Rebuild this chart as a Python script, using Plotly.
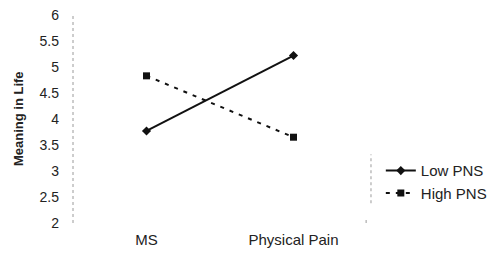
import plotly.graph_objects as go

categories = ["MS", "Physical Pain"]
low_pns = [3.77, 5.22]
high_pns = [4.83, 3.65]
y_ticks = [2, 2.5, 3, 3.5, 4, 4.5, 5, 5.5, 6]
y_tick_labels = ["2", "2.5", "3", "3.5", "4", "4.5", "5", "5.5", "6"]

fig = go.Figure()
fig.add_trace(go.Scatter(
    x=categories, y=low_pns, name="Low PNS", mode="lines+markers",
    line=dict(color="#111", width=2),
    marker=dict(symbol="diamond", size=7, color="#111"),
))
fig.add_trace(go.Scatter(
    x=categories, y=high_pns, name="High PNS", mode="lines+markers",
    line=dict(color="#111", width=2, dash="4px,6px"),
    marker=dict(symbol="square", size=7, color="#111"),
))

fig.update_layout(
    width=493, height=256,
    margin=dict(l=73, r=126, t=15, b=33, autoexpand=False),
    paper_bgcolor="white", plot_bgcolor="white",
    font=dict(family="Liberation Sans, Arial, sans-serif", size=14, color="#222"),
    showlegend=True,
    legend=dict(x=1.047, y=0.33, xanchor="left", yanchor="top",
                font=dict(size=15), tracegroupgap=0, itemwidth=30,
                bgcolor="rgba(0,0,0,0)"),
    xaxis=dict(showgrid=False, zeroline=False, showline=False, ticks="",
               range=[-0.5, 1.5], automargin=False,
               tickfont=dict(size=15), ticklabelstandoff=6),
    yaxis=dict(range=[2, 6], tickvals=y_ticks, ticktext=y_tick_labels,
               showgrid=False, zeroline=False, showline=False, ticks="",
               automargin=False, ticklabeloverflow="allow",
               ticklabelstandoff=13, tickfont=dict(size=14)),
    annotations=[dict(text="<b>Meaning in Life</b>", xref="paper", yref="paper",
                      x=-0.187, y=0.5, xanchor="center", yanchor="middle",
                      textangle=-90, showarrow=False, font=dict(size=13, color="#222"))],
)

# dotted vertical axis line
fig.add_shape(type="line", xref="paper", yref="paper", x0=0, x1=0, y0=0, y1=1,
              line=dict(color="#9a9a9a", width=1, dash="dot"))
# small tick at bottom right
fig.add_shape(type="line", xref="paper", yref="paper", x0=0.997, x1=0.997, y0=0.0, y1=0.02,
              line=dict(color="#9a9a9a", width=1, dash="dot"))
# legend left border (dotted)
fig.add_shape(type="line", xref="paper", yref="paper", x0=1.0136, x1=1.0136, y0=0.095, y1=0.33,
              line=dict(color="#9a9a9a", width=1, dash="dot"))

fig.write_html("out.html", config={"displayModeBar": False},
               post_script="document.body.style.margin='0';")
